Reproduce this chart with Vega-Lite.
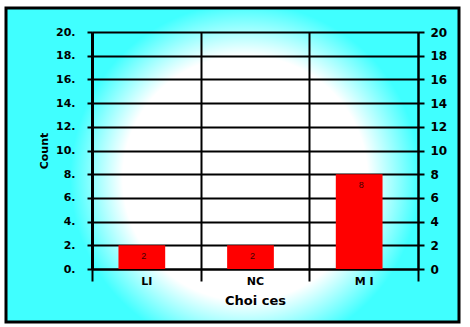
{
  "$schema": "https://vega.github.io/schema/vega-lite/v6.json",
  "autosize": "none",
  "padding": {"left": 6, "top": 8, "right": 11, "bottom": 5},
  "width": 453,
  "height": 314,
  "background": "#ffffff",
  "config": {
    "view": {
      "fill": {
        "gradient": "radial",
        "x1": 0.528, "y1": 0.529, "r1": 0,
        "x2": 0.528, "y2": 0.529, "r2": 0.386,
        "stops": [
          {"offset": 0, "color": "#ffffff"},
          {"offset": 0.7, "color": "#ffffff"},
          {"offset": 1, "color": "#40ffff"}
        ]
      },
      "stroke": "#000000",
      "strokeWidth": 3
    },
    "axis": {
      "labelFont": "DejaVu Sans",
      "labelFontWeight": "bold",
      "labelFontSize": 11,
      "labelColor": "#000000",
      "titleFont": "DejaVu Sans",
      "titleFontWeight": "bold",
      "titleColor": "#000000",
      "domainColor": "#000000",
      "domainWidth": 2,
      "tickColor": "#000000",
      "tickWidth": 2,
      "gridColor": "#000000",
      "gridOpacity": 1,
      "gridWidth": 2
    }
  },
  "data": {
    "values": [
      {"Choice": "LI", "Count": 2},
      {"Choice": "NC", "Count": 2},
      {"Choice": "M I", "Count": 8}
    ]
  },
  "layer": [
    {
      "mark": {"type": "bar", "color": "#ff0000", "xOffset": -4.5, "width": {"band": 0.43}},
      "encoding": {
        "x": {
          "field": "Choice",
          "type": "nominal",
          "sort": null,
          "scale": {"range": [86, 412], "paddingInner": 0, "paddingOuter": 0},
          "axis": {
            "orient": "bottom",
            "offset": -53,
            "tickBand": "extent",
            "grid": false,
            "tickSize": -237,
            "labels": false,
            "domain": true,
            "title": null
          }
        },
        "y": {
          "field": "Count",
          "type": "quantitative",
          "scale": {"domain": [0, 20], "range": [261, 24], "nice": false},
          "axis": {
            "orient": "left",
            "offset": -86,
            "values": [0, 2, 4, 6, 8, 10, 12, 14, 16, 18, 20],
            "labelExpr": "datum.label + '.'",
            "tickSize": 5,
            "labelPadding": 12,
            "domainWidth": 3,
            "grid": true,
            "title": "Count",
            "titleFontSize": 11,
            "titlePadding": 6
          }
        }
      }
    },
    {
      "mark": {"type": "text", "dy": 11, "xOffset": -2.5, "font": "Liberation Sans", "fontSize": 9, "color": "#400000"},
      "encoding": {
        "x": {
          "field": "Choice",
          "type": "nominal",
          "sort": null,
          "scale": {"range": [86, 412], "paddingInner": 0, "paddingOuter": 0},
          "axis": {
            "orient": "bottom",
            "offset": -53,
            "tickBand": "extent",
            "grid": false,
            "tickSize": 12,
            "domain": false,
            "labelAngle": 0,
            "labelPadding": -6,
            "title": "Choi ces",
            "titleFontSize": 13,
            "titlePadding": 8
          }
        },
        "y": {
          "field": "Count",
          "type": "quantitative",
          "scale": {"domain": [0, 20], "range": [261, 24], "nice": false},
          "axis": {
            "orient": "right",
            "offset": -41,
            "values": [0, 2, 4, 6, 8, 10, 12, 14, 16, 18, 20],
            "tickSize": 6,
            "labelPadding": 6,
            "labelFontSize": 12,
            "grid": false,
            "title": null
          }
        },
        "text": {"field": "Count", "type": "quantitative"}
      }
    }
  ],
  "resolve": {
    "scale": {"x": "independent", "y": "independent"},
    "axis": {"x": "independent", "y": "independent"}
  }
}
